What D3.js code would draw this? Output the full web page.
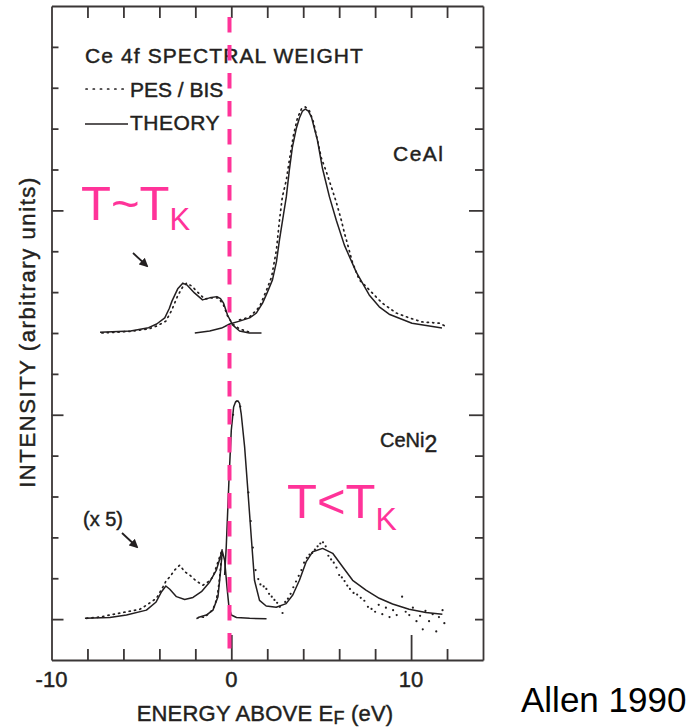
<!DOCTYPE html>
<html>
<head>
<meta charset="utf-8">
<script src="https://cdn.jsdelivr.net/npm/d3@7"></script>
<style>
  html, body { margin: 0; padding: 0; background: #fff; }
  svg { display: block; font-family: "Liberation Sans", Arial, Helvetica, sans-serif; }
  .ink-text { fill: #231f20; stroke: #231f20; stroke-width: 0.45px; }
</style>
</head>
<body>
<svg id="chart" width="698" height="727"></svg>
<script>
// Ce 4f spectral weight: energy above E_F (eV) vs intensity (arb. units above each baseline)

const ceAlBaseline = 8;
const ceNi2Baseline = 1;

// CeAl, photoemission side
const ceAlPesTheory = [[-7.3,0.02],[-5.6,0.05],[-4.6,0.13],[-4.15,0.22],[-3.7,0.37],[-3.45,0.6],[-3.3,0.78],[-2.98,1.08],[-2.7,1.22],[-2.45,1.17],[-2.05,0.98],[-1.6,0.81],[-1.2,0.86],[-0.8,0.89],[-0.6,0.84],[-0.43,0.73],[-0.21,0.44],[0.07,0.2],[0.46,0.05],[1.0,0.0],[1.68,0.0]];
const ceAlPesData = [[-7.2,0.0],[-5.6,0.04],[-4.6,0.1],[-4.15,0.17],[-3.64,0.29],[-3.31,0.56],[-2.98,0.91],[-2.7,1.13],[-2.48,1.22],[-2.21,1.15],[-1.87,1.0],[-1.48,0.83],[-1.09,0.86],[-0.71,0.86],[-0.43,0.68],[-0.21,0.42],[0.07,0.22],[0.46,0.1],[1.02,0.02]];

// CeAl, inverse photoemission side
const ceAlBisTheory = [[-2.03,0.0],[-1.2,0.05],[-0.54,0.12],[-0.09,0.22],[0.46,0.29],[1.02,0.37],[1.4,0.49],[1.74,0.73],[2.01,1.0],[2.29,1.3],[2.51,1.74],[2.68,2.28],[2.9,2.89],[3.06,3.33],[3.23,3.99],[3.4,4.55],[3.62,5.01],[3.79,5.26],[3.96,5.43],[4.12,5.48],[4.29,5.43],[4.46,5.28],[4.62,5.01],[4.79,4.72],[5.07,4.03],[5.46,3.33],[5.84,2.76],[6.29,2.15],[6.95,1.49],[7.67,0.93],[8.23,0.64],[8.78,0.46],[10.05,0.24],[11.72,0.12]];
const ceAlBisData = [[0.46,0.32],[1.02,0.39],[1.57,0.64],[1.96,1.05],[2.24,1.37],[2.51,2.03],[2.68,2.76],[2.84,3.33],[3.06,3.74],[3.23,4.23],[3.46,4.84],[3.68,5.26],[3.9,5.48],[4.12,5.53],[4.35,5.43],[4.57,5.16],[4.79,4.72],[5.01,4.28],[5.29,3.94],[5.62,3.5],[5.84,3.2],[6.12,2.76],[6.29,2.45],[6.45,2.2],[6.73,1.74],[7.12,1.3],[7.51,1.13],[8.06,0.88],[8.4,0.73],[9.17,0.49],[9.9,0.37],[10.62,0.27],[11.56,0.24],[11.9,0.17]];

// CeNi2, photoemission magnified x5
const ceNi2PesX5Theory = [[-8.14,0.02],[-6.76,0.04],[-5.83,0.1],[-4.72,0.22],[-4.18,0.42],[-3.88,0.67],[-3.64,0.81],[-3.42,0.73],[-3.05,0.55],[-2.59,0.48],[-2.13,0.53],[-1.66,0.67],[-1.2,0.91],[-0.83,1.2],[-0.61,1.52],[-0.5,1.71]];
const ceNi2PesX5Data = [[-8.05,0.02],[-7.31,0.05],[-6.76,0.1],[-5.83,0.18],[-5.09,0.24],[-4.72,0.34],[-4.16,0.51],[-3.8,0.79],[-3.61,0.95],[-3.42,1.03],[-3.15,1.2],[-2.87,1.32],[-2.59,1.16],[-2.32,1.08],[-1.94,0.93],[-1.58,0.83],[-1.3,0.91],[-1.02,1.03],[-0.74,1.4],[-0.55,1.65]];

// CeNi2, photoemission near E_F
const ceNi2PesTheory = [[-1.85,0.04],[-1.39,0.1],[-1.02,0.22],[-0.74,0.55],[-0.61,1.12],[-0.5,1.66],[-0.37,1.44],[-0.24,0.79],[-0.13,0.3],[0.0,0.1],[0.29,0.04],[1.02,0.02],[1.96,0.01]];
const ceNi2PesData = [[-1.9,0.02],[-1.7,0.06],[-1.5,0.04],[-1.3,0.12],[-1.1,0.2],[-0.9,0.35],[-0.75,0.65],[-0.65,1.0],[-0.56,1.45],[-0.5,1.7]];

// CeNi2, inverse photoemission
const ceNi2BisTheory = [[-0.37,1.08],[-0.28,1.77],[-0.13,3.4],[0.0,4.62],[0.13,5.19],[0.24,5.32],[0.37,5.34],[0.46,5.28],[0.55,5.03],[0.74,4.22],[0.92,3.16],[1.11,2.01],[1.29,0.95],[1.57,0.46],[1.94,0.32],[2.5,0.29],[3.05,0.38],[3.42,0.59],[3.79,0.95],[4.16,1.4],[4.53,1.65],[5.08,1.73],[5.64,1.61],[6.19,1.28],[6.75,0.95],[7.49,0.71],[8.23,0.51],[8.97,0.37],[9.89,0.24],[10.82,0.16],[11.74,0.12]];
const ceNi2BisData = [[0.1,5.0],[0.3,5.33],[0.5,5.2],[0.95,3.1],[1.08,2.4],[1.2,1.75],[1.35,1.2],[1.5,0.98],[1.62,0.85],[1.8,0.8],[1.95,0.74],[2.1,0.62],[2.25,0.55],[2.4,0.47],[2.55,0.4],[2.7,0.3],[2.85,0.15],[3.0,0.42],[3.15,0.5],[3.3,0.62],[3.45,0.78],[3.6,0.92],[3.75,1.06],[3.9,1.2],[4.05,1.38],[4.2,1.5],[4.35,1.58],[4.5,1.62],[4.65,1.7],[4.8,1.78],[4.95,1.85],[5.1,1.88],[5.25,1.78],[5.4,1.55],[5.55,1.46],[5.7,1.38],[5.85,1.26],[6.0,1.08],[6.15,1.02],[6.3,0.93],[6.45,0.82],[6.6,0.74],[6.8,0.64],[7.0,0.6],[7.2,0.52],[7.4,0.45],[7.6,0.3],[7.8,0.25],[8.0,0.18],[8.2,0.35],[8.4,0.12],[8.6,0.28],[8.8,0.05],[9.0,0.22],[9.2,0.1],[9.5,0.55],[9.7,0.18],[9.9,0.1],[10.1,0.28],[10.3,-0.05],[10.5,0.08],[10.65,-0.25],[10.8,0.2],[11.0,-0.05],[11.2,0.12],[11.4,-0.3],[11.55,0.05],[11.75,0.22],[11.85,-0.1]];

const energyTicks = [-8, -6, -4, -2, 0, 2, 4, 6, 8, 10, 12];
const energyMajorTicks = [0, 10];
const energyTickLabels = [-10, 0, 10];
const intensityTicks = [1, 2, 3, 4, 5, 6, 7, 8, 9, 10, 11, 12, 13, 14, 15];
const intensityMajorTicks = [1, 6, 11];
const fermiEnergy = -0.1;

const ink = "#231f20";
const frameInk = "#3a3636";
const pink = "#ff3399";

const svg = d3.select("#chart");
const x = d3.scaleLinear().domain([-10, 14]).range([51.5, 483]);
const y = d3.scaleLinear().domain([0, 16]).range([660, 6]);

// frame with inward ticks on all four sides
const axBottom = svg.append("g").attr("transform", "translate(0,660)")
  .call(d3.axisBottom(x).tickValues(energyTicks).tickSizeInner(-11).tickSizeOuter(0).tickFormat(""));
axBottom.selectAll(".tick line").filter(d => energyMajorTicks.includes(d)).attr("y2", -25);
svg.append("g").attr("transform", "translate(0,6)")
  .call(d3.axisTop(x).tickValues(energyTicks).tickSizeInner(-12).tickSizeOuter(0).tickFormat(""));
const axLeft = svg.append("g").attr("transform", "translate(51.5,0)")
  .call(d3.axisLeft(y).tickValues(intensityTicks).tickSizeInner(-7).tickSizeOuter(0).tickFormat(""));
axLeft.selectAll(".tick line").filter(d => intensityMajorTicks.includes(d)).attr("x2", 12);
const axRight = svg.append("g").attr("transform", "translate(483,0)")
  .call(d3.axisRight(y).tickValues(intensityTicks).tickSizeInner(-8).tickSizeOuter(0).tickFormat(""));
axRight.selectAll(".tick line").filter(d => d !== 1 && intensityMajorTicks.includes(d)).attr("x2", -14);
svg.selectAll(".domain, .tick line").attr("stroke", frameInk).attr("stroke-width", 1.8);

// energy tick labels
svg.append("g").selectAll("text").data(energyTickLabels).join("text")
  .attr("class", "ink-text")
  .attr("x", d => x(d)).attr("y", 687)
  .attr("text-anchor", "middle").attr("font-size", 22)
  .text(d => String(d));

// axis titles
const xTitle = svg.append("text").attr("class", "ink-text").attr("x", 265).attr("y", 721)
  .attr("text-anchor", "middle").attr("font-size", 22).attr("letter-spacing", 0.2);
xTitle.append("tspan").text("ENERGY ABOVE E");
xTitle.append("tspan").attr("font-size", 18).attr("dy", 3).text("F");
xTitle.append("tspan").attr("dy", -3).text(" (eV)");

svg.append("text").attr("class", "ink-text").attr("transform", "translate(35,332) rotate(-90)")
  .attr("text-anchor", "middle").attr("font-size", 22).attr("letter-spacing", 1.6)
  .text("INTENSITY (arbitrary units)");

// spectra
const line = d3.line().x(d => x(d[0]));
function drawSeries(data, base, dotted) {
  const p = svg.append("path")
    .attr("d", line.y(d => y(base + d[1]))(data))
    .attr("fill", "none").attr("stroke", ink);
  if (dotted) {
    p.attr("stroke-width", 1.7).attr("stroke-dasharray", "1.2,4.2").attr("stroke-linecap", "round");
  } else {
    p.attr("stroke-width", 1.5).attr("stroke-linejoin", "round");
  }
}
function drawPoints(data, base) {
  svg.append("g").selectAll("circle").data(data).join("circle")
    .attr("cx", d => x(d[0])).attr("cy", d => y(base + d[1]))
    .attr("r", 1.1).attr("fill", ink);
}
drawSeries(ceAlPesData, ceAlBaseline, true);
drawSeries(ceAlPesTheory, ceAlBaseline, false);
drawSeries(ceAlBisData, ceAlBaseline, true);
drawSeries(ceAlBisTheory, ceAlBaseline, false);
drawSeries(ceNi2PesX5Data, ceNi2Baseline, true);
drawSeries(ceNi2PesX5Theory, ceNi2Baseline, false);
drawSeries(ceNi2PesData, ceNi2Baseline, true);
drawSeries(ceNi2PesTheory, ceNi2Baseline, false);
drawPoints(ceNi2BisData, ceNi2Baseline);
drawSeries(ceNi2BisTheory, ceNi2Baseline, false);

// legend
const legend = svg.append("g").attr("font-size", 21);
legend.append("text").attr("class", "ink-text").attr("x", 85).attr("y", 63).attr("letter-spacing", 1.1).text("Ce 4f SPECTRAL WEIGHT");
legend.append("line").attr("x1", 86).attr("x2", 128).attr("y1", 89).attr("y2", 89)
  .attr("stroke", ink).attr("stroke-width", 1.7).attr("stroke-dasharray", "1.2,6").attr("stroke-linecap", "round");
legend.append("text").attr("class", "ink-text").attr("x", 130).attr("y", 97).text("PES / BIS");
legend.append("line").attr("x1", 85).attr("x2", 128).attr("y1", 124).attr("y2", 124)
  .attr("stroke", ink).attr("stroke-width", 1.5);
legend.append("text").attr("class", "ink-text").attr("x", 130).attr("y", 130).attr("letter-spacing", 0.5).text("THEORY");

// compound labels
svg.append("text").attr("class", "ink-text").attr("x", 393).attr("y", 161).attr("font-size", 21).attr("letter-spacing", 1.5)
  .text("CeAl");
const ni = svg.append("text").attr("class", "ink-text").attr("x", 380).attr("y", 447).attr("font-size", 20);
ni.append("tspan").text("CeNi");
ni.append("tspan").attr("dy", 5).attr("font-size", 23).text("2");
svg.append("text").attr("class", "ink-text").attr("x", 83).attr("y", 526).attr("font-size", 20).text("(x 5)");

// small pointers to the magnified spectra
svg.append("defs").append("marker").attr("id", "head")
  .attr("viewBox", "0 0 10 10").attr("refX", 8).attr("refY", 5)
  .attr("markerWidth", 5).attr("markerHeight", 5).attr("orient", "auto")
  .append("path").attr("d", "M0,0 L10,5 L0,10 z").attr("fill", ink);
[[133, 253, 147, 266], [122, 533, 137, 547]].forEach(a => {
  svg.append("line").attr("x1", a[0]).attr("y1", a[1]).attr("x2", a[2]).attr("y2", a[3])
    .attr("stroke", ink).attr("stroke-width", 1.8).attr("marker-end", "url(#head)");
});

// Fermi level
svg.append("line").attr("x1", x(fermiEnergy)).attr("x2", x(fermiEnergy)).attr("y1", 17).attr("y2", 649)
  .attr("stroke", pink).attr("stroke-width", 4).attr("stroke-dasharray", "15.5,12.5");

// temperature regimes
const t1 = svg.append("text").attr("x", 81).attr("y", 220).attr("font-size", 49).attr("fill", pink);
t1.append("tspan").text("T~T");
t1.append("tspan").attr("font-size", 31).attr("dy", 10).text("K");
const t2 = svg.append("text").attr("x", 287).attr("y", 518).attr("font-size", 49).attr("fill", pink);
t2.append("tspan").text("T<T");
t2.append("tspan").attr("font-size", 32).attr("dy", 12).text("K");

svg.append("text").attr("x", 521).attr("y", 712).attr("font-size", 35).attr("fill", "#000").text("Allen 1990");
</script>
</body>
</html>
